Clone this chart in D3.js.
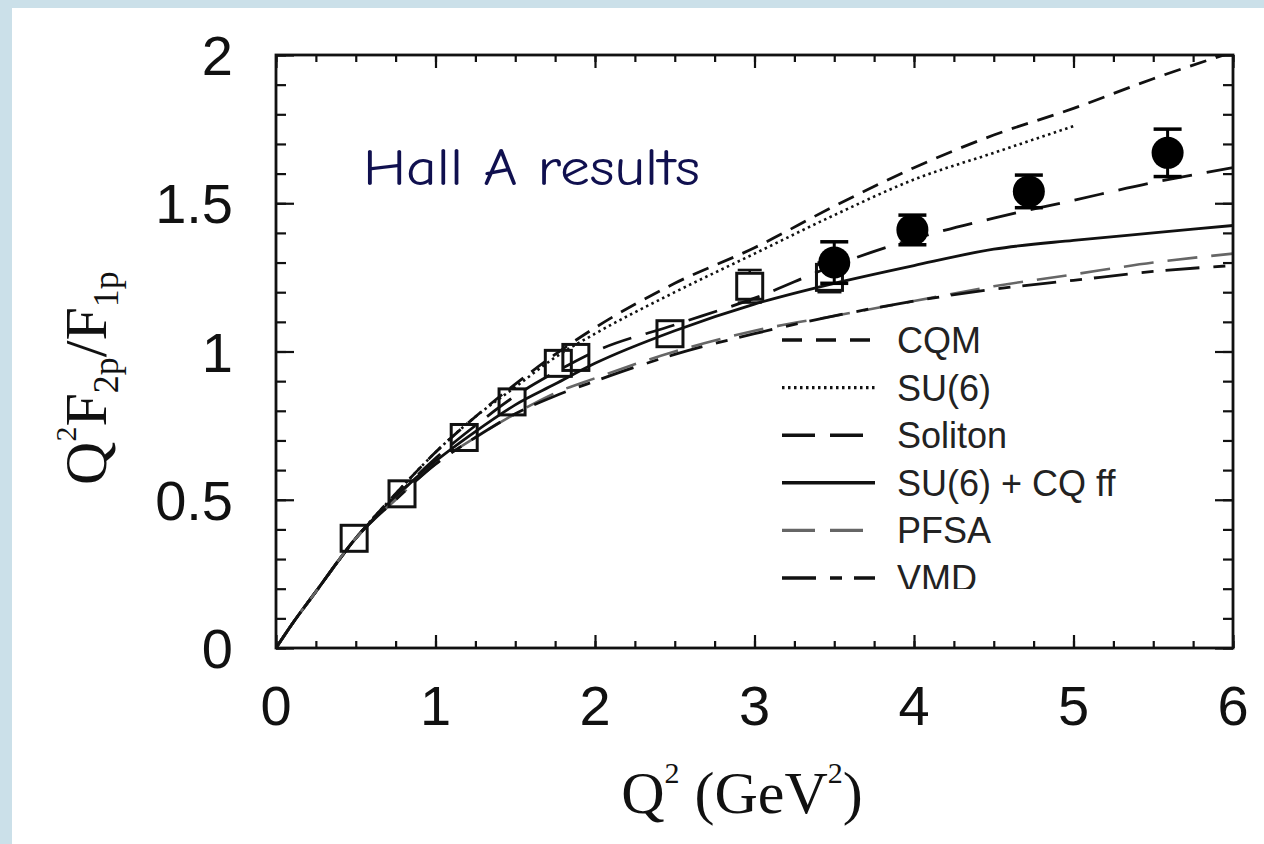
<!DOCTYPE html>
<html>
<head>
<meta charset="utf-8">
<script src="https://cdn.jsdelivr.net/npm/d3@7"></script>
<style>
  html, body { margin: 0; padding: 0; background: #cbe0e9; }
  svg { display: block; }
</style>
</head>
<body>
<svg id="chart" width="1264" height="844"></svg>
<script>
// ---------------- data ----------------
const xTickValues = [0, 1, 2, 3, 4, 5, 6];
const xTickLabels = ["0", "1", "2", "3", "4", "5", "6"];
const yTickValues = [0, 0.5, 1, 1.5, 2];
const yTickLabels = ["0", "0.5", "1", "1.5", "2"];

// model curves sampled on a Q^2 grid
const qGrid   = [0, 0.1, 0.25, 0.5, 0.75, 1, 1.25, 1.5, 1.75, 2, 2.5, 3, 3.5, 4, 4.5, 5, 5.5, 6];
const cqm     = [0, 0.08, 0.19, 0.37, 0.52, 0.66, 0.78, 0.89, 0.99, 1.08, 1.23, 1.35, 1.49, 1.62, 1.73, 1.82, 1.92, 2.01];
const su6     = [0, 0.08, 0.19, 0.37, 0.52, 0.66, 0.78, 0.88, 0.98, 1.06, 1.20, 1.33, 1.46, 1.58, 1.67, 1.76, null, null];
const soliton = [0, 0.08, 0.19, 0.37, 0.51, 0.64, 0.75, 0.85, 0.93, 1.00, 1.09, 1.18, 1.29, 1.38, 1.45, 1.51, 1.57, 1.62];
const su6cq   = [0, 0.08, 0.19, 0.37, 0.51, 0.63, 0.73, 0.82, 0.89, 0.96, 1.07, 1.16, 1.23, 1.29, 1.345, 1.375, 1.40, 1.425];
const pfsa    = [0, 0.08, 0.19, 0.37, 0.50, 0.62, 0.71, 0.79, 0.86, 0.91, 1.00, 1.07, 1.12, 1.17, 1.22, 1.26, 1.30, 1.33];
const vmd     = [0, 0.08, 0.19, 0.37, 0.50, 0.62, 0.71, 0.79, 0.85, 0.90, 0.99, 1.06, 1.12, 1.17, 1.21, 1.24, 1.27, 1.29];

// open squares (earlier data)
const sqQ = [0.49, 0.79, 1.18, 1.48, 1.77, 1.88, 2.47, 2.97, 3.47];
const sqV = [0.37, 0.52, 0.71, 0.83, 0.96, 0.98, 1.06, 1.22, 1.25];
const sqE = [0.01, 0.01, 0.01, 0.015, 0.02, 0.02, 0.03, 0.055, 0.05];

// filled circles (Hall A results)
const ciQ = [3.5, 3.99, 4.72, 5.59];
const ciV = [1.30, 1.41, 1.54, 1.67];
const ciE = [0.07, 0.05, 0.055, 0.08];

const legendNames = ["CQM", "SU(6)", "Soliton", "SU(6) + CQ ff", "PFSA", "VMD"];

// ---------------- drawing ----------------
const svg = d3.select("#chart");
const W = 1264, H = 844;
const pLeft = 276, pRight = 1233, pTop = 55, pBottom = 648;

svg.append("rect").attr("x", 0).attr("y", 0).attr("width", W).attr("height", H).attr("fill", "#cbe0e9");
svg.append("rect").attr("x", 12).attr("y", 8).attr("width", W - 12).attr("height", H - 8).attr("fill", "#ffffff");

const x = d3.scaleLinear().domain([0, 6]).range([pLeft, pRight]);
const y = d3.scaleLinear().domain([0, 2]).range([pBottom, pTop]);

const styles = [
  { vals: cqm,     color: "#111", width: 2.8, dash: "17,10" },
  { vals: su6,     color: "#111", width: 2.6, dash: "2.5,3.5" },
  { vals: soliton, color: "#111", width: 2.8, dash: "30,15" },
  { vals: su6cq,   color: "#111", width: 2.8, dash: null },
  { vals: pfsa,    color: "#666", width: 2.6, dash: "30,14" },
  { vals: vmd,     color: "#111", width: 2.8, dash: "34,14,12,12" }
];

const defs = svg.append("defs");
defs.append("clipPath").attr("id", "plotclip")
  .append("rect").attr("x", pLeft).attr("y", pTop).attr("width", pRight - pLeft).attr("height", pBottom - pTop);
const plot = svg.append("g").attr("clip-path", "url(#plotclip)");

const line = d3.line()
  .defined(d => d[1] !== null)
  .x(d => x(d[0])).y(d => y(d[1]))
  .curve(d3.curveMonotoneX);

styles.forEach(s => {
  const pts = qGrid.map((q, i) => [q, s.vals[i]]);
  plot.append("path").datum(pts)
    .attr("d", line)
    .attr("fill", "none")
    .attr("stroke", s.color)
    .attr("stroke-width", s.width)
    .attr("stroke-dasharray", s.dash);
});

// squares with error bars
const half = 13;
const sqData = sqQ.map((q, i) => ({ q, v: sqV[i], e: sqE[i] }));
const sqG = plot.append("g");
sqData.forEach(d => {
  const cx = x(d.q), cy = y(d.v);
  const yt = y(d.v + d.e), yb = y(d.v - d.e);
  if (cy - yt > half) {
    sqG.append("line").attr("x1", cx).attr("x2", cx).attr("y1", yt).attr("y2", cy - half).attr("stroke", "#111").attr("stroke-width", 2.5);
    sqG.append("line").attr("x1", cx - 12).attr("x2", cx + 12).attr("y1", yt).attr("y2", yt).attr("stroke", "#111").attr("stroke-width", 2.5);
    sqG.append("line").attr("x1", cx).attr("x2", cx).attr("y1", cy + half).attr("y2", yb).attr("stroke", "#111").attr("stroke-width", 2.5);
    sqG.append("line").attr("x1", cx - 12).attr("x2", cx + 12).attr("y1", yb).attr("y2", yb).attr("stroke", "#111").attr("stroke-width", 2.5);
  }
  sqG.append("rect").attr("x", cx - half).attr("y", cy - half).attr("width", 2 * half).attr("height", 2 * half)
    .attr("fill", "none").attr("stroke", "#111").attr("stroke-width", 3);
});

// circles with error bars
const ciData = ciQ.map((q, i) => ({ q, v: ciV[i], e: ciE[i] }));
const ciG = plot.append("g");
ciData.forEach(d => {
  const cx = x(d.q), yt = y(d.v + d.e), yb = y(d.v - d.e);
  ciG.append("line").attr("x1", cx).attr("x2", cx).attr("y1", yt).attr("y2", yb).attr("stroke", "#000").attr("stroke-width", 3);
  ciG.append("line").attr("x1", cx - 14).attr("x2", cx + 14).attr("y1", yt).attr("y2", yt).attr("stroke", "#000").attr("stroke-width", 3.5);
  ciG.append("line").attr("x1", cx - 14).attr("x2", cx + 14).attr("y1", yb).attr("y2", yb).attr("stroke", "#000").attr("stroke-width", 3.5);
  ciG.append("circle").attr("cx", cx).attr("cy", y(d.v)).attr("r", 16).attr("fill", "#000");
});

// axes: ticks on all four sides, pointing inward
const xMinor = d3.range(0, 6.001, 0.25);
const yMinor = d3.range(0, 2.001, 0.1).map(v => +v.toFixed(2));
function styleAxis(g) {
  g.select(".domain").remove();
  g.selectAll(".tick line").attr("stroke", "#111").attr("stroke-width", 2.2);
  g.selectAll("text").remove();
}
svg.append("g").attr("transform", `translate(0,${pBottom})`).call(d3.axisBottom(x).tickValues(xMinor).tickSize(-7)).call(styleAxis);
svg.append("g").attr("transform", `translate(0,${pBottom})`).call(d3.axisBottom(x).tickValues(xTickValues).tickSize(-13)).call(styleAxis);
svg.append("g").attr("transform", `translate(0,${pTop})`).call(d3.axisTop(x).tickValues(xMinor).tickSize(-7)).call(styleAxis);
svg.append("g").attr("transform", `translate(0,${pTop})`).call(d3.axisTop(x).tickValues(xTickValues).tickSize(-13)).call(styleAxis);
svg.append("g").attr("transform", `translate(${pLeft},0)`).call(d3.axisLeft(y).tickValues(yMinor).tickSize(-10)).call(styleAxis);
svg.append("g").attr("transform", `translate(${pLeft},0)`).call(d3.axisLeft(y).tickValues(yTickValues).tickSize(-18)).call(styleAxis);
svg.append("g").attr("transform", `translate(${pRight},0)`).call(d3.axisRight(y).tickValues(yMinor).tickSize(-10)).call(styleAxis);
svg.append("g").attr("transform", `translate(${pRight},0)`).call(d3.axisRight(y).tickValues(yTickValues).tickSize(-18)).call(styleAxis);

// frame
svg.append("rect").attr("x", pLeft).attr("y", pTop).attr("width", pRight - pLeft).attr("height", pBottom - pTop)
  .attr("fill", "none").attr("stroke", "#111").attr("stroke-width", 2.8);

// tick labels
const tickFont = "'Liberation Sans', Arial, Helvetica, sans-serif";
svg.append("g").selectAll("text").data(xTickValues).join("text")
  .attr("x", d => x(d)).attr("y", 725)
  .attr("text-anchor", "middle")
  .attr("font-family", tickFont).attr("font-size", 56).attr("fill", "#111")
  .text((d, i) => xTickLabels[i]);
svg.append("g").selectAll("text").data(yTickValues).join("text")
  .attr("x", 233).attr("y", d => y(d) + 20)
  .attr("text-anchor", "end")
  .attr("font-family", tickFont).attr("font-size", 56).attr("fill", "#111")
  .text((d, i) => yTickLabels[i]);

// axis titles (serif, with sub/superscripts)
const serif = "'Liberation Serif', 'Times New Roman', Times, serif";
const xt = svg.append("text").attr("x", 742).attr("y", 813).attr("text-anchor", "middle")
  .attr("font-family", serif).attr("font-size", 60).attr("fill", "#111");
xt.append("tspan").text("Q");
xt.append("tspan").attr("font-size", 30).attr("dy", -30).text("2");
xt.append("tspan").attr("dy", 30).text(" (GeV");
xt.append("tspan").attr("font-size", 30).attr("dy", -30).text("2");
xt.append("tspan").attr("dy", 30).text(")");

const ytl = svg.append("text").attr("transform", "translate(106,378) rotate(-90)").attr("text-anchor", "middle")
  .attr("font-family", serif).attr("font-size", 60).attr("fill", "#111");
ytl.append("tspan").text("Q");
ytl.append("tspan").attr("font-size", 30).attr("dy", -30).text("2");
ytl.append("tspan").attr("dy", 30).text("F");
ytl.append("tspan").attr("font-size", 36).attr("dy", 12).text("2p");
ytl.append("tspan").attr("dy", -12).text("/F");
ytl.append("tspan").attr("font-size", 36).attr("dy", 12).text("1p");

// annotation
svg.append("text").attr("x", 363).attr("y", 185)
  .attr("font-family", "'Comic Sans MS', 'Comic Neue', 'DejaVu Sans', sans-serif")
  .attr("font-size", 52).attr("fill", "#10104f")
  .attr("textLength", 337).attr("lengthAdjust", "spacingAndGlyphs")
  .text("Hall A results");

// legend
defs.append("clipPath").attr("id", "legclip")
  .append("rect").attr("x", 760).attr("y", 300).attr("width", 420).attr("height", 289);
const leg = svg.append("g").attr("clip-path", "url(#legclip)");
const legY0 = 340, legDy = 47.6, lx0 = 782, lx1 = 875, tx = 897;
legendNames.forEach((name, i) => {
  const s = styles[i];
  const ly = legY0 + i * legDy;
  leg.append("line").attr("x1", lx0).attr("x2", lx1).attr("y1", ly).attr("y2", ly)
    .attr("stroke", s.color).attr("stroke-width", s.width + 0.6)
    .attr("stroke-dasharray", i === 2 || i === 4 ? "33,15" : (i === 0 ? "20,14" : s.dash));
  leg.append("text").attr("x", tx).attr("y", ly + 13)
    .attr("font-family", tickFont).attr("font-size", 36).attr("fill", "#222")
    .text(name);
});
</script>
</body>
</html>
